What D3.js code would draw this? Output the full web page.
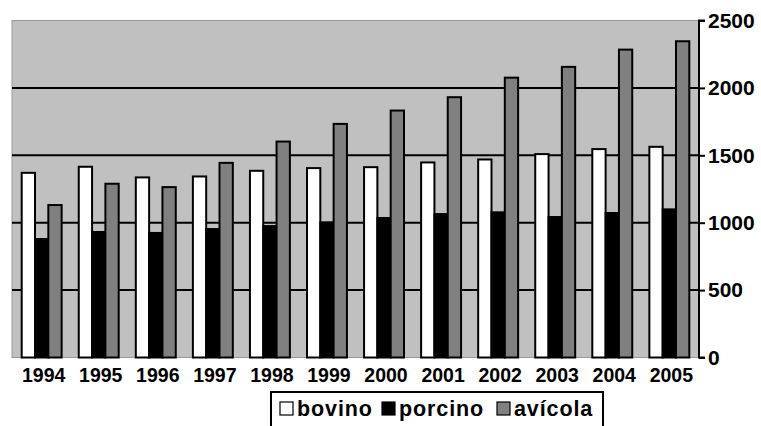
<!DOCTYPE html>
<html lang="es">
  <head>
    <meta charset="utf-8">
    <title>bovino, porcino, avícola</title>
    <script src="https://cdn.jsdelivr.net/npm/d3@7"></script>
    <style>
      body { margin: 0; background: #fff; }
      text { font-family: "Liberation Sans", Arial, sans-serif; font-weight: bold; fill: #000; }
    </style>
  </head>
  <body>
    <div id="chart"></div>
    <script>
      const years = ["1994", "1995", "1996", "1997", "1998", "1999",
                     "2000", "2001", "2002", "2003", "2004", "2005"];
      const bovino  = [1370, 1415, 1336, 1343, 1385, 1405, 1412, 1447, 1469, 1509, 1546, 1563];
      const porcino = [ 879,  931,  924,  953,  975, 1002, 1035, 1064, 1077, 1042, 1072, 1099];
      const avicola = [1131, 1289, 1264, 1444, 1602, 1733, 1832, 1931, 2076, 2156, 2284, 2346];
      const seriesNames = ["bovino", "porcino", "avícola"];
      const yTicks = [0, 500, 1000, 1500, 2000, 2500];

      const colors = ["#ffffff", "#000000", "#808080"];
      const series = [bovino, porcino, avicola];

      const svgWidth = 761, svgHeight = 426;
      const plot = { left: 12, right: 699, top: 20.5, bottom: 357.5 };

      const svg = d3.select("#chart")
          .append("svg")
          .attr("width", svgWidth)
          .attr("height", svgHeight);

      const x = d3.scaleBand()
          .domain(years)
          .range([plot.left, plot.right])
          .paddingInner(0.3)
          .paddingOuter(0.17);

      const xSub = d3.scaleBand()
          .domain(seriesNames)
          .range([0, x.bandwidth()]);

      const y = d3.scaleLinear()
          .domain([0, 2500])
          .range([plot.bottom, plot.top]);

      // plot background
      svg.append("rect")
          .attr("x", plot.left)
          .attr("y", plot.top)
          .attr("width", plot.right - plot.left)
          .attr("height", plot.bottom - plot.top)
          .attr("fill", "#c0c0c0")
          .attr("stroke", "#999")
          .attr("stroke-width", 1);

      // gridlines
      svg.append("g")
          .selectAll("line")
          .data(yTicks.filter(d => d > 0 && d < 2500))
          .enter().append("line")
          .attr("x1", plot.left)
          .attr("x2", plot.right)
          .attr("y1", d => y(d))
          .attr("y2", d => y(d))
          .attr("stroke", "#000")
          .attr("stroke-width", 2);

      // bars
      const groups = svg.append("g")
          .selectAll("g")
          .data(years)
          .enter().append("g")
          .attr("transform", d => `translate(${x(d)},0)`);

      groups.selectAll("rect")
          .data((yr, i) => series.map((s, k) => ({ name: seriesNames[k], value: s[i], color: colors[k] })))
          .enter().append("rect")
          .attr("x", d => xSub(d.name))
          .attr("y", d => y(d.value))
          .attr("width", xSub.bandwidth())
          .attr("height", d => y(0) - y(d.value))
          .attr("fill", d => d.color)
          .attr("stroke", "#000")
          .attr("stroke-width", 2);

      // right axis
      const yAxis = d3.axisRight(y)
          .tickValues(yTicks)
          .tickSize(6)
          .tickPadding(3)
          .tickFormat(d3.format("d"));

      const ya = svg.append("g")
          .attr("transform", `translate(${plot.right},0)`)
          .call(yAxis);
      ya.select(".domain")
          .attr("stroke", "#000")
          .attr("stroke-width", 2)
          .attr("d", `M6,${plot.top}H0V${plot.bottom}H6`);
      ya.selectAll(".tick line").attr("stroke", "#000").attr("stroke-width", 2);
      ya.selectAll(".tick text")
          .attr("font-size", 21)
          .attr("font-family", null);

      // x labels
      svg.append("g")
          .selectAll("text")
          .data(years)
          .enter().append("text")
          .attr("x", d => x(d) + x.bandwidth() / 2 + 2)
          .attr("y", 381.5)
          .attr("text-anchor", "middle")
          .attr("font-size", 19.5)
          .text(d => d);

      // legend
      svg.append("rect")
          .attr("x", 271)
          .attr("y", 392)
          .attr("width", 332)
          .attr("height", 50)
          .attr("fill", "#fff")
          .attr("stroke", "#000")
          .attr("stroke-width", 2);

      const legendX = [280, 382, 497];
      const leg = svg.append("g")
          .selectAll("g")
          .data(seriesNames)
          .enter().append("g")
          .attr("transform", (d, i) => `translate(${legendX[i]},402)`);

      leg.append("rect")
          .attr("width", 13)
          .attr("height", 13)
          .attr("fill", (d, i) => colors[i])
          .attr("stroke", "#000")
          .attr("stroke-width", 1.2);

      leg.append("text")
          .attr("x", 17)
          .attr("y", 14)
          .attr("font-size", 21.5)
          .attr("letter-spacing", 0.9)
          .text(d => d);
    </script>
  </body>
</html>
